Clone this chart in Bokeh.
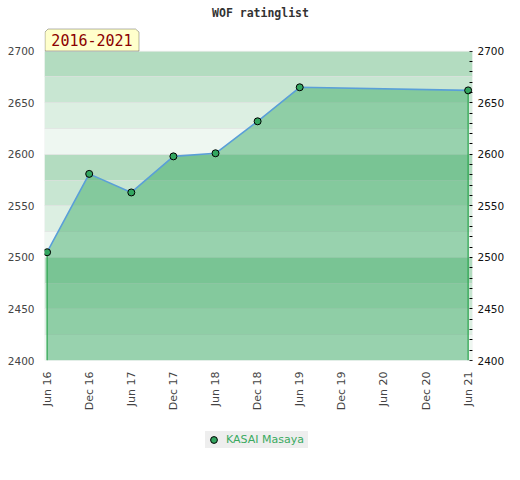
import numpy as np
from bokeh.plotting import figure
from bokeh.layouts import column
from bokeh.models import (Range1d, LinearAxis, FixedTicker, Legend, LegendItem,
                          Label, PolyAnnotation, BoxAnnotation)
from bokeh.embed import file_html
from bokeh.resources import INLINE

# ---------------- data ----------------
title_text = "WOF ratinglist"
period_text = "2016-2021"
player = "KASAI Masaya"
dates = ["2016-06", "2016-12", "2017-06", "2017-12", "2018-06",
         "2018-12", "2019-06", "2021-06"]
ratings = [2505, 2581, 2563, 2598, 2601, 2632, 2665, 2662]
tick_labels = ["Jun 16", "Dec 16", "Jun 17", "Dec 17", "Jun 18", "Dec 18",
               "Jun 19", "Dec 19", "Jun 20", "Dec 20", "Jun 21"]
y_min, y_max = 2400, 2700

# month offsets from Jun 2016
x = [(int(d[:4]) - 2016) * 12 + int(d[5:]) - 6 for d in dates]
tick_pos = [6 * i for i in range(len(tick_labels))]
y_major = list(range(y_min, y_max + 1, 50))
y_minor = [v for v in range(y_min, y_max + 1, 10) if v % 50]

FONT = "DejaVu Sans"
FH = 360  # frame height in px (the top part holds title and tab)
p = figure(width=504, height=420, output_backend="svg", toolbar_location=None,
           x_range=Range1d(-0.37, 60.62), y_range=Range1d(y_min, y_min + FH * 300 / 309.3),
           frame_width=428, frame_height=FH,
           min_border_left=44, min_border_right=32, min_border_top=0,
           min_border_bottom=60, y_axis_location=None,
           background_fill_color="white", border_fill_color="white")
p.outline_line_color = None
p.grid.visible = False

# background bands
band_bottoms = np.arange(y_min, y_max, 25)
band_palette = ["#eef7f1", "#dcefe2", "#c8e6d2", "#b3dcc0"]
band_colors = [band_palette[int((b - y_min) // 25) % 4] for b in band_bottoms]
p.hstrip(y0=band_bottoms, y1=band_bottoms + 25, fill_color=band_colors, line_color=None)
p.hspan(y=band_bottoms[1:], line_color="#dedede", line_alpha=0.6, line_width=1)

# area
n = len(x)
p.varea(x=x, y1=[y_min] * n, y2=ratings, fill_color="#3ba965", fill_alpha=0.48)
p.segment(x0=[x[0], x[-1]], y0=[y_min, y_min], x1=[x[0], x[-1]],
          y1=[ratings[0], ratings[-1]], line_color="#27a34c", line_width=1.2)
p.line(x, ratings, line_color="#5a9fd8", line_width=1.6)
pts = p.scatter(x, ratings, size=7, fill_color="#33a660", line_color="black", line_width=1)

# plot-area border
p.add_layout(BoxAnnotation(bottom=y_min, top=y_max, fill_alpha=0,
                           line_color="#d4d4d4", line_width=1))

# axes
left = LinearAxis(ticker=FixedTicker(ticks=y_major))
left.axis_line_color = None
left.major_tick_line_color = None
left.minor_tick_line_color = None
left.major_tick_out = 0
left.major_tick_in = 0
left.minor_tick_out = 0
left.major_label_standoff = 10
left.major_label_text_font = FONT
left.major_label_text_font_size = "10.5px"
left.major_label_text_color = "#444444"
p.add_layout(left, "left")

right = LinearAxis(ticker=FixedTicker(ticks=y_major, minor_ticks=y_minor))
right.axis_line_color = None
right.major_tick_line_color = "black"
right.minor_tick_line_color = "black"
right.major_tick_in = 3
right.major_tick_out = 0
right.minor_tick_in = 3
right.minor_tick_out = 0
right.major_label_standoff = 5
right.major_label_text_font = FONT
right.major_label_text_font_size = "10.5px"
right.major_label_text_color = "#111111"
p.add_layout(right, "right")

xa = p.xaxis[0]
xa.ticker = FixedTicker(ticks=tick_pos)
xa.major_label_overrides = {t: lab for t, lab in zip(tick_pos, tick_labels)}
xa.major_label_orientation = np.pi / 2
xa.axis_line_color = None
xa.major_tick_line_color = None
xa.minor_tick_line_color = None
xa.major_tick_out = 0
xa.major_tick_in = 0
xa.minor_tick_out = 0
xa.major_label_standoff = 11
xa.major_label_text_font = FONT
xa.major_label_text_font_size = "11px"
xa.major_label_text_color = "#444444"

# title (inside the top strip of the frame)
p.add_layout(Label(x=216, y=FH - 12.5, x_units="screen", y_units="screen", text=title_text,
                   text_align="center", text_baseline="middle",
                   text_font="DejaVu Sans Mono", text_font_style="bold",
                   text_font_size="11.5px", text_color="#333333"))

# period tab (sits on the 2700 line)
tab_top = FH - 28.5
tab_bottom = FH - 50.5
p.add_layout(PolyAnnotation(xs=[0.5, 0.5, 3.5, 91, 94.5, 94.5],
                            ys=[tab_bottom, tab_top - 3, tab_top, tab_top, tab_top - 3, tab_bottom],
                            xs_units="screen", ys_units="screen",
                            fill_color="#ffffcc", fill_alpha=1, line_color="black", line_width=1))
p.add_layout(Label(x=47.5, y=FH - 39.5, x_units="screen", y_units="screen", text=period_text,
                   text_align="center", text_baseline="middle",
                   text_font="DejaVu Sans Mono", text_font_size="15px", text_color="#8b0000"))

# legend strip below the chart (its key glyph uses the same series, off-canvas)
lg = figure(width=504, height=44, output_backend="svg", toolbar_location=None,
            x_range=Range1d(0, 1), y_range=Range1d(0, 1), min_border=0,
            x_axis_location=None, y_axis_location=None,
            background_fill_color="white", border_fill_color="white")
lg.outline_line_color = None
lg.grid.visible = False
key = lg.scatter(x=x, y=ratings, size=7, fill_color="#33a660", line_color="black", line_width=1)
legend = Legend(items=[LegendItem(label=player, renderers=[key])],
                location=(161, 16), orientation="horizontal",
                padding=4, spacing=0, margin=0, glyph_width=17, glyph_height=17,
                label_standoff=4, label_width=82,
                background_fill_color="#eeeeee", background_fill_alpha=1,
                border_line_color=None, label_text_font=FONT, label_text_font_size="11px",
                label_text_color="#3aaa5f")
lg.add_layout(legend, "center")

open("out.html", "w").write(file_html(column(p, lg, spacing=0), INLINE))
